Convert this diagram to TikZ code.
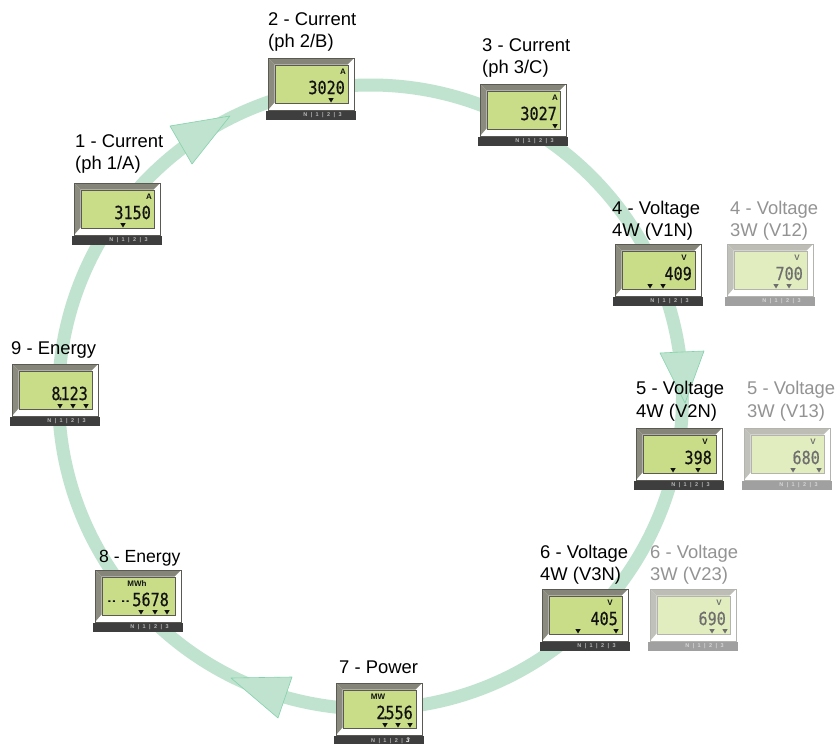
\documentclass[tikz,border=0pt]{standalone}
\usepackage{fontspec}
\setmainfont{Liberation Sans}
\newfontfamily\lcdfont[FakeBold=0.7]{DejaVu Sans Mono}
\definecolor{ringcol}{HTML}{BFE3CE}
\definecolor{ringedge}{HTML}{84D2AC}
\tikzset{
  x=1pt,y=-1pt,
  flowring/.style={draw=ringcol,line width=13pt},
  flowhead/.style={fill=ringcol,draw=ringedge,line width=.6pt,line join=round},
  titletext/.style={anchor=base west,inner sep=0pt,font=\fontsize{18.4}{22}\selectfont},
  unittext/.style={inner sep=0pt,font=\fontsize{8}{8}\selectfont\bfseries},
  digittext/.style={anchor=east,inner sep=0pt,xscale=.84,font=\fontsize{18}{20}\lcdfont},
  striptext/.style={inner sep=0pt,font=\fontsize{5.5}{6}\selectfont\bfseries},
}
\newcommand{\ttl}[5]{\node[titletext,text=#5] (#1) at (#2,#3) {#4};}
\newcommand{\dotg}{\hspace{-.3em}.\hspace{-.3em}}
\newcommand{\stripthree}{3}
\newcommand{\stripsep}{\hspace{3.4pt}|\hspace{3.4pt}}
\newcommand{\palnormal}{%
  \definecolor{mtop}{HTML}{85857A}\definecolor{mleft}{HTML}{8B8B80}%
  \definecolor{mline}{HTML}{5A5A52}\definecolor{mlcd}{HTML}{C9DD88}%
  \definecolor{mstrip}{HTML}{3E3E3E}\definecolor{mink}{HTML}{111111}\definecolor{mstext}{HTML}{B8B8B8}}
\newcommand{\palghost}{%
  \definecolor{mtop}{HTML}{BDBDB6}\definecolor{mleft}{HTML}{C1C1BB}%
  \definecolor{mline}{HTML}{B4B4AE}\definecolor{mlcd}{HTML}{E1EDBF}%
  \definecolor{mstrip}{HTML}{A0A0A0}\definecolor{mink}{HTML}{6E6E6E}\definecolor{mstext}{HTML}{D6D6D6}}
% #1 name #2 x #3 y #4 unit #5 unit x #6 digits #7 digit right #8 marker list
\newcommand{\meter}[8]{%
  \begin{scope}[shift={(#2,#3)}]
    \fill[white] (0,0) rectangle (86,52);
    \fill[mtop] (0,0) -- (86,0) -- (79.5,6.5) -- (6.5,6.5) -- cycle;
    \fill[mleft] (0,0) -- (6.5,6.5) -- (6.5,44.5) -- (0,52) -- cycle;
    \draw[mline,line width=.7pt] (0,0) rectangle (86,52);
    \node[draw=mline,fill=mlcd,line width=.8pt,minimum width=73pt,minimum height=38pt,inner sep=0pt,anchor=north west] (#1lcd) at (6.5,6.5) {};
    \node[unittext,text=mink] (#1unit) at (#5,14) {#4};
    \node[digittext,text=mink] (#1val) at (#7,29.5) {#6};
    \foreach \mk in {#8} {
      \fill[mink] (\mk-2.7,40) -- (\mk+2.7,40) -- (\mk,44.5) -- cycle;
    }
    \node[fill=mstrip,minimum width=90pt,minimum height=9pt,inner sep=0pt,anchor=north west] (#1strip) at (-2,53) {};
    \node[striptext,text=mstext] (#1ph) at (54.5,57.5) {N\stripsep 1\stripsep 2\stripsep\stripthree};
  \end{scope}
}
\begin{document}
\begin{tikzpicture}
\useasboundingbox (0,0) rectangle (839,744);
\fill[white] (0,0) rectangle (839,744);
\draw[flowring] (370.5,397) circle [radius=312];
\draw[flowhead] (170,126) -- (230,116) -- (192,164) -- cycle;
\draw[flowhead] (660,353) -- (704,351) -- (685,403) -- cycle;
\draw[flowhead] (231,678) -- (292,677) -- (278,718) -- cycle;
\palnormal
\meter{mone}{74}{183}{A}{75}{3150}{77}{49}
\meter{mtwo}{268}{58}{A}{75}{3020}{77}{63}
\meter{mthree}{480}{84}{A}{75}{3027}{77}{75}
\meter{mfour}{615}{244}{V}{69}{409}{77}{35,48}
\meter{mfive}{636}{428}{V}{69}{398}{76}{37,62}
\meter{msix}{542}{589}{V}{68}{405}{76}{36,74}
\renewcommand{\stripthree}{\textcolor{white}{\itshape\fontsize{6.5}{6}\selectfont 3}}
\meter{mseven}{336}{683}{MW}{42}{2\dotg 556}{77}{49,62,74}
\renewcommand{\stripthree}{3}
\meter{meight}{95}{570}{MWh}{42}{\scalebox{.5}[1]{-- --}\hspace{3pt}5678}{74}{46,60,72}
\meter{mnine}{12}{364}{}{70}{8\dotg 123}{76}{48,61,74}
\palghost
\meter{gfour}{727}{244}{V}{70}{700}{76}{49,62}
\meter{gfive}{744}{428}{V}{69}{680}{76}{49,75}
\meter{gsix}{650}{589}{V}{69}{690}{76}{62,75}
\ttl{tonea}{75}{147}{1 - Current}{black}
\ttl{toneb}{75}{169}{(ph 1/A)}{black}
\ttl{ttwoa}{268}{25}{2 - Current}{black}
\ttl{ttwob}{268}{47}{(ph 2/B)}{black}
\ttl{tthreea}{482}{51}{3 - Current}{black}
\ttl{tthreeb}{482}{73}{(ph 3/C)}{black}
\ttl{tfoura}{612}{214}{4 - Voltage}{black}
\ttl{tfourb}{612}{236}{4W (V1N)}{black}
\ttl{gfoura}{730}{214}{4 - Voltage}{gray!85}
\ttl{gfourb}{730}{236}{3W (V12)}{gray!85}
\ttl{tfivea}{636}{394}{5 - Voltage}{black}
\ttl{tfiveb}{636}{417}{4W (V2N)}{black}
\ttl{gfivea}{747}{394}{5 - Voltage}{gray!85}
\ttl{gfiveb}{747}{417}{3W (V13)}{gray!85}
\ttl{tsixa}{540}{558}{6 - Voltage}{black}
\ttl{tsixb}{540}{580}{4W (V3N)}{black}
\ttl{gsixa}{650}{558}{6 - Voltage}{gray!85}
\ttl{gsixb}{650}{580}{3W (V23)}{gray!85}
\ttl{tseven}{339}{673}{7 - Power}{black}
\ttl{teight}{99}{562}{\fontsize{17.6}{22}\selectfont 8 - Energy}{black}
\ttl{tnine}{11}{354}{9 - Energy}{black}
\end{tikzpicture}
\end{document}
